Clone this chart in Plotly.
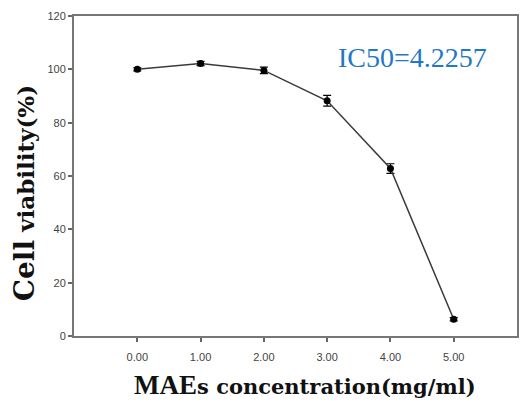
import plotly.graph_objects as go

conc = [0, 1, 2, 3, 4, 5]
viability = [100, 102.2, 99.6, 88.2, 62.8, 6.3]
err = [0.6, 0.8, 1.2, 2.0, 1.8, 0.6]
x_tick_vals = [0, 1, 2, 3, 4, 5]
x_tick_text = ["0.00", "1.00", "2.00", "3.00", "4.00", "5.00"]
y_tick_vals = [0, 20, 40, 60, 80, 100, 120]

fig = go.Figure()
fig.add_trace(go.Scatter(
    x=conc, y=viability,
    mode="lines+markers",
    line=dict(color="#3a3a3a", width=1.5),
    marker=dict(color="black", size=7),
    error_y=dict(type="data", array=err, color="black", thickness=1.2, width=4),
    showlegend=False,
))

fig.update_xaxes(
    range=[-1, 6], tickvals=x_tick_vals, ticktext=x_tick_text,
    ticks="outside", ticklen=4, tickcolor="#666", tickwidth=1.5,
    showline=True, linecolor="#777", linewidth=2, mirror=True,
    showgrid=False, zeroline=False, ticklabelstandoff=6,
    tickfont=dict(family="Arial", size=11, color="#444"),
)
fig.update_yaxes(
    range=[0, 120], tickvals=y_tick_vals,
    ticks="outside", ticklen=4, tickcolor="#666", tickwidth=1.5,
    showline=True, linecolor="#777", linewidth=2, mirror=True,
    showgrid=False, zeroline=False,
    tickfont=dict(family="Arial", size=11, color="#444"),
)

fig.add_annotation(
    text="IC50=4.2257", x=0.765, y=0.869, xref="paper", yref="paper",
    xanchor="center", yanchor="middle",
    showarrow=False, font=dict(family="Liberation Serif", size=28, color="#1f78c8"),
)
fig.add_annotation(
    text="<b><span style='font-family:\"Liberation Serif\";font-size:27px'>MAE</span>s concentration(mg/ml)</b>",
    x=0.522, y=-0.153, xref="paper", yref="paper", xanchor="center", yanchor="middle",
    showarrow=False, font=dict(family="DejaVu Serif", size=21, color="#111"),
)
fig.add_annotation(
    text="<b><span style='font-size:28px'>Cell</span> viability(%)</b>",
    x=-0.11, y=0.447, xref="paper", yref="paper", xanchor="center", yanchor="middle",
    textangle=-90,
    showarrow=False, font=dict(family="DejaVu Serif", size=23, color="#111"),
)

fig.update_layout(
    width=521, height=407,
    margin=dict(l=74, r=2, t=16, b=71),
    plot_bgcolor="white", paper_bgcolor="white",
)
fig.write_html("out.html")
